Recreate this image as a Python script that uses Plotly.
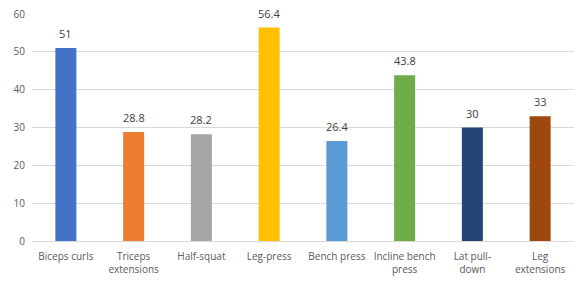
import plotly.graph_objects as go

categories = ["Biceps curls", "Triceps<br>extensions", "Half-squat", "Leg-press",
              "Bench press", "Incline bench<br>press", "Lat pull-<br>down", "Leg<br>extensions"]
values = [51, 28.8, 28.2, 56.4, 26.4, 43.8, 30, 33]
colors = ["#4472C4", "#ED7D31", "#A5A5A5", "#FFC000", "#5B9BD5", "#70AD47", "#264478", "#9E480E"]
y_ticks = [0, 10, 20, 30, 40, 50, 60]

fig = go.Figure(go.Bar(
    x=categories, y=values, marker=dict(color=colors, line=dict(width=0)),
))
for c, v in zip(categories, values):
    fig.add_annotation(x=c, y=v, text=f"{v:g}", showarrow=False, yanchor="bottom",
                       yshift=5, font=dict(family="Open Sans", size=11, color="#404040"))
fig.update_layout(
    width=579, height=288,
    margin=dict(l=32, r=5, t=14, b=47),
    paper_bgcolor="white", plot_bgcolor="white",
    bargap=0.69, showlegend=False,
    font=dict(family="Open Sans", size=10, color="#595959"),
)
fig.update_yaxes(range=[0, 60], tickvals=y_ticks, showgrid=True, gridcolor="#D9D9D9",
                 gridwidth=1, zeroline=False, showline=False, ticks="",
                 ticklabelstandoff=6, tickfont=dict(size=10, color="#595959"))
fig.update_xaxes(showline=True, linecolor="#D9D9D9", linewidth=1, ticks="",
                 ticklabelstandoff=6, tickfont=dict(size=10, color="#595959"), tickangle=0)
fig.write_html("out.html")
